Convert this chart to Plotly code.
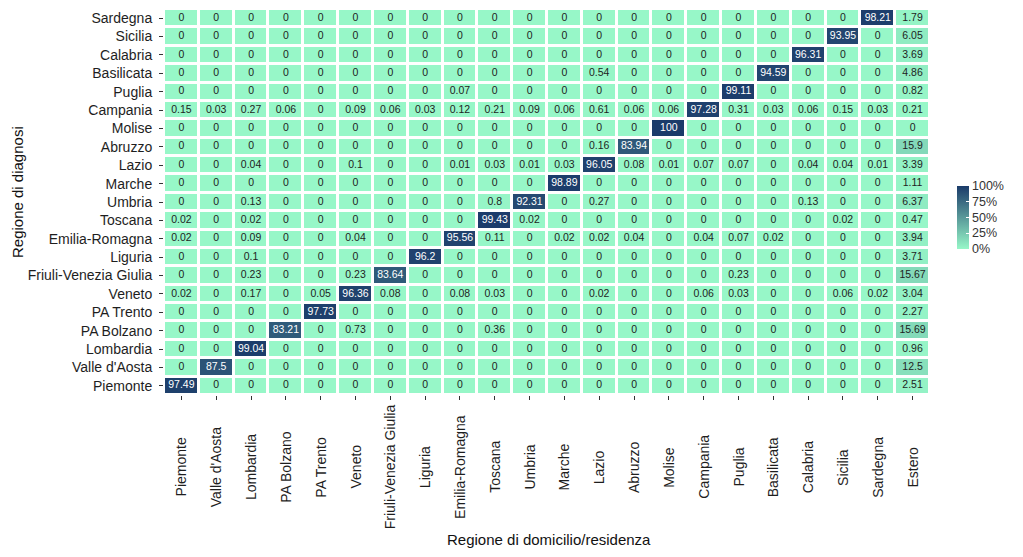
import plotly.graph_objects as go

cols = ["Piemonte", "Valle d'Aosta", "Lombardia", "PA Bolzano", "PA Trento", "Veneto",
        "Friuli-Venezia Giulia", "Liguria", "Emilia-Romagna", "Toscana", "Umbria", "Marche",
        "Lazio", "Abruzzo", "Molise", "Campania", "Puglia", "Basilicata", "Calabria",
        "Sicilia", "Sardegna", "Estero"]
rows = ["Piemonte", "Valle d'Aosta", "Lombardia", "PA Bolzano", "PA Trento", "Veneto",
        "Friuli-Venezia Giulia", "Liguria", "Emilia-Romagna", "Toscana", "Umbria", "Marche",
        "Lazio", "Abruzzo", "Molise", "Campania", "Puglia", "Basilicata", "Calabria",
        "Sicilia", "Sardegna"]

piemonte =     [97.49, 0, 0, 0, 0, 0, 0, 0, 0, 0, 0, 0, 0, 0, 0, 0, 0, 0, 0, 0, 0, 2.51]
valle_daosta = [0, 87.5, 0, 0, 0, 0, 0, 0, 0, 0, 0, 0, 0, 0, 0, 0, 0, 0, 0, 0, 0, 12.5]
lombardia =    [0, 0, 99.04, 0, 0, 0, 0, 0, 0, 0, 0, 0, 0, 0, 0, 0, 0, 0, 0, 0, 0, 0.96]
pa_bolzano =   [0, 0, 0, 83.21, 0, 0.73, 0, 0, 0, 0.36, 0, 0, 0, 0, 0, 0, 0, 0, 0, 0, 0, 15.69]
pa_trento =    [0, 0, 0, 0, 97.73, 0, 0, 0, 0, 0, 0, 0, 0, 0, 0, 0, 0, 0, 0, 0, 0, 2.27]
veneto =       [0.02, 0, 0.17, 0, 0.05, 96.36, 0.08, 0, 0.08, 0.03, 0, 0, 0.02, 0, 0, 0.06, 0.03, 0, 0, 0.06, 0.02, 3.04]
friuli_vg =    [0, 0, 0.23, 0, 0, 0.23, 83.64, 0, 0, 0, 0, 0, 0, 0, 0, 0, 0.23, 0, 0, 0, 0, 15.67]
liguria =      [0, 0, 0.1, 0, 0, 0, 0, 96.2, 0, 0, 0, 0, 0, 0, 0, 0, 0, 0, 0, 0, 0, 3.71]
emilia_rom =   [0.02, 0, 0.09, 0, 0, 0.04, 0, 0, 95.56, 0.11, 0, 0.02, 0.02, 0.04, 0, 0.04, 0.07, 0.02, 0, 0, 0, 3.94]
toscana =      [0.02, 0, 0.02, 0, 0, 0, 0, 0, 0, 99.43, 0.02, 0, 0, 0, 0, 0, 0, 0, 0, 0.02, 0, 0.47]
umbria =       [0, 0, 0.13, 0, 0, 0, 0, 0, 0, 0.8, 92.31, 0, 0.27, 0, 0, 0, 0, 0, 0.13, 0, 0, 6.37]
marche =       [0, 0, 0, 0, 0, 0, 0, 0, 0, 0, 0, 98.89, 0, 0, 0, 0, 0, 0, 0, 0, 0, 1.11]
lazio =        [0, 0, 0.04, 0, 0, 0.1, 0, 0, 0.01, 0.03, 0.01, 0.03, 96.05, 0.08, 0.01, 0.07, 0.07, 0, 0.04, 0.04, 0.01, 3.39]
abruzzo =      [0, 0, 0, 0, 0, 0, 0, 0, 0, 0, 0, 0, 0.16, 83.94, 0, 0, 0, 0, 0, 0, 0, 15.9]
molise =       [0, 0, 0, 0, 0, 0, 0, 0, 0, 0, 0, 0, 0, 0, 100, 0, 0, 0, 0, 0, 0, 0]
campania =     [0.15, 0.03, 0.27, 0.06, 0, 0.09, 0.06, 0.03, 0.12, 0.21, 0.09, 0.06, 0.61, 0.06, 0.06, 97.28, 0.31, 0.03, 0.06, 0.15, 0.03, 0.21]
puglia =       [0, 0, 0, 0, 0, 0, 0, 0, 0.07, 0, 0, 0, 0, 0, 0, 0, 99.11, 0, 0, 0, 0, 0.82]
basilicata =   [0, 0, 0, 0, 0, 0, 0, 0, 0, 0, 0, 0, 0.54, 0, 0, 0, 0, 94.59, 0, 0, 0, 4.86]
calabria =     [0, 0, 0, 0, 0, 0, 0, 0, 0, 0, 0, 0, 0, 0, 0, 0, 0, 0, 96.31, 0, 0, 3.69]
sicilia =      [0, 0, 0, 0, 0, 0, 0, 0, 0, 0, 0, 0, 0, 0, 0, 0, 0, 0, 0, 93.95, 0, 6.05]
sardegna =     [0, 0, 0, 0, 0, 0, 0, 0, 0, 0, 0, 0, 0, 0, 0, 0, 0, 0, 0, 0, 98.21, 1.79]

legend_vals = [0, 25, 50, 75, 100]
legend_text = ["0%", "25%", "50%", "75%", "100%"]

z = [piemonte, valle_daosta, lombardia, pa_bolzano, pa_trento, veneto, friuli_vg, liguria,
     emilia_rom, toscana, umbria, marche, lazio, abruzzo, molise, campania, puglia,
     basilicata, calabria, sicilia, sardegna]

LOW = "#97F7C8"
HIGH = "#1B3B6A"
FONT = "Liberation Sans, Arial, sans-serif"

fig = go.Figure()
fig.add_trace(go.Heatmap(
    z=z, x=cols, y=rows, zmin=0, zmax=100,
    colorscale=[[0, LOW], [1, HIGH]],
    xgap=3, ygap=3, hoverinfo="skip",
    colorbar=dict(
        lenmode="pixels", len=63, thickness=12,
        xref="paper", yref="paper", x=1.0352, xanchor="left",
        y=0.5418, yanchor="top", xpad=0, ypad=0,
        outlinewidth=0, tickvals=legend_vals, ticktext=legend_text,
        ticks="inside", ticklen=3, tickcolor="white", tickwidth=1,
        tickfont=dict(family=FONT, size=12.5, color="#333333"),
    ),
))

tx, ty, tt, tc = [], [], [], []
for r, row in zip(rows, z):
    for c, v in zip(cols, row):
        tx.append(c)
        ty.append(r)
        tt.append(f"{v:g}")
        tc.append("white" if v > 50 else "#1e1e1e")
fig.add_trace(go.Scatter(x=tx, y=ty, text=tt, mode="text",
                         textfont=dict(family=FONT, size=10.5, color=tc),
                         hoverinfo="skip", showlegend=False))

annotations = []
for c in cols:
    annotations.append(dict(x=c, y=-0.1865, xref="x", yref="paper", text=c,
                            textangle=-90, showarrow=False, xanchor="center",
                            yanchor="middle",
                            font=dict(family=FONT, size=14, color="#1e1e1e")))
annotations.append(dict(x=0.503, y=-0.3756, xref="paper", yref="paper",
                        text="Regione di domicilio/residenza", showarrow=False,
                        xanchor="center", yanchor="middle",
                        font=dict(family=FONT, size=15, color="#111111")))
annotations.append(dict(x=-0.1913, y=0.527, xref="paper", yref="paper",
                        text="Regione di diagnosi", showarrow=False, textangle=-90,
                        xanchor="center", yanchor="middle",
                        font=dict(family=FONT, size=15, color="#111111")))

fig.update_layout(
    width=1023, height=557,
    margin=dict(l=164, r=93, t=9, b=162),
    paper_bgcolor="white", plot_bgcolor="white",
    showlegend=False,
    annotations=annotations,
    xaxis=dict(type="category", categoryorder="array", categoryarray=cols,
               range=[-0.5, len(cols) - 0.5], showgrid=False, zeroline=False,
               showticklabels=False, ticks="outside", ticklen=4, tickcolor="#333333",
               tickwidth=1, showline=False, fixedrange=True),
    yaxis=dict(type="category", categoryorder="array", categoryarray=rows,
               range=[-0.5, len(rows) - 0.5], showgrid=False, zeroline=False,
               ticks="outside", ticklen=4, tickcolor="#333333", tickwidth=1,
               ticklabelstandoff=4,
               tickfont=dict(family=FONT, size=14, color="#1e1e1e"),
               showline=False, fixedrange=True),
)

fig.write_html("out.html", config={"displayModeBar": False},
               post_script="document.body.style.margin='0';")
